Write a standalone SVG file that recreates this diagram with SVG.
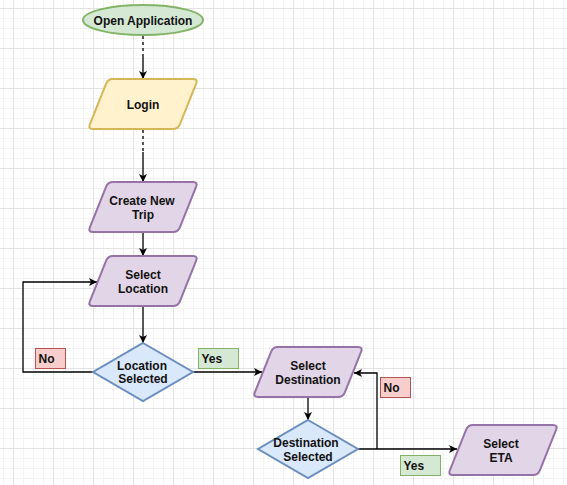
<svg xmlns="http://www.w3.org/2000/svg" width="567" height="485" viewBox="0 0 567 485">
  <defs>
    <pattern id="grid" patternUnits="userSpaceOnUse" x="13" y="8" width="40" height="40">
      <path d="M10.5,0V40M20.5,0V40M30.5,0V40M0,10.5H40M0,20.5H40M0,30.5H40" stroke="#f3f3f3" stroke-width="1" fill="none"/>
      <path d="M0.5,0V40M0,0.5H40" stroke="#e3e3e3" stroke-width="1" fill="none"/>
    </pattern>
    <path id="para" d="M25,0 L105,0 Q110,0 108.14,4.64 L91.86,45.36 Q90,50 85,50 L5,50 Q0,50 1.86,45.36 L18.14,4.64 Q20,0 25,0 Z"/>
    <marker id="arr" markerUnits="userSpaceOnUse" markerWidth="10" markerHeight="10" refX="8" refY="4" orient="auto">
      <path d="M0,0 L8,4 L0,8 L2,4 Z" fill="#000"/>
    </marker>
    <style>
      .t { font-family: "Liberation Sans", Arial, Helvetica, sans-serif; font-size: 12px; font-weight: bold; fill: #111; }
      .c { text-anchor: middle; }
      .green { fill: #d5e8d4; stroke: #82b366; stroke-width: 2; }
      .yellow { fill: #fff2cc; stroke: #d6b656; stroke-width: 2; }
      .purple { fill: #e1d5e7; stroke: #9673a6; stroke-width: 2; }
      .blue { fill: #dae8fc; stroke: #6c8ebf; stroke-width: 2; }
      .red { fill: #f8cecc; stroke: #b85450; stroke-width: 1; }
      .lgreen { fill: #d5e8d4; stroke: #82b366; stroke-width: 1; }
      .e { fill: none; stroke: #000; stroke-width: 1.3; }
      .d { stroke-dasharray: 3 3; }
    </style>
  </defs>

  <rect width="567" height="485" fill="#ffffff"/>
  <rect width="567" height="485" fill="url(#grid)"/>

  <g id="connectors">
    <line class="e d" x1="143" y1="36" x2="143" y2="54"/>
    <line class="e" x1="143" y1="54" x2="143" y2="79" marker-end="url(#arr)"/>
    <line class="e d" x1="143" y1="130" x2="143" y2="152"/>
    <line class="e" x1="143" y1="152" x2="143" y2="182" marker-end="url(#arr)"/>
    <line class="e" x1="143" y1="232" x2="143" y2="256" marker-end="url(#arr)"/>
    <line class="e" x1="143" y1="306" x2="143" y2="343" marker-end="url(#arr)"/>
    <polyline class="e" points="93,372 23,372 23,282 97,282" marker-end="url(#arr)"/>
    <line class="e" x1="193" y1="372" x2="262" y2="372" marker-end="url(#arr)"/>
    <line class="e" x1="308" y1="397" x2="308" y2="420" marker-end="url(#arr)"/>
    <line class="e" x1="358" y1="449" x2="457" y2="449" marker-end="url(#arr)"/>
    <polyline class="e" points="377,449 377,373 354,373" marker-end="url(#arr)"/>
  </g>

  <g id="open-application">
    <ellipse class="green" cx="143" cy="20" rx="60" ry="15"/>
    <text class="t c" x="143" y="25">Open Application</text>
  </g>
  <g id="login">
    <use href="#para" class="yellow" transform="translate(88,79)"/>
    <text class="t c" x="143" y="109">Login</text>
  </g>
  <g id="create-new-trip">
    <use href="#para" class="purple" transform="translate(88,182)"/>
    <text class="t c" x="142" y="205">Create New</text>
    <text class="t c" x="143" y="219">Trip</text>
  </g>
  <g id="select-location">
    <use href="#para" class="purple" transform="translate(88,256)"/>
    <text class="t c" x="143" y="278.5">Select</text>
    <text class="t c" x="143" y="293">Location</text>
  </g>
  <g id="location-selected">
    <polygon class="blue" points="143,343 193,372 143,401 93,372"/>
    <text class="t c" x="142" y="369.5">Location</text>
    <text class="t c" x="143" y="383">Selected</text>
  </g>
  <g id="label-no-1">
    <rect class="red" x="35.5" y="348.5" width="30" height="20"/>
    <text class="t" x="38.5" y="362.5">No</text>
  </g>
  <g id="label-yes-1">
    <rect class="lgreen" x="198.5" y="348.5" width="40" height="20"/>
    <text class="t" x="201.5" y="362.5">Yes</text>
  </g>
  <g id="select-destination">
    <use href="#para" class="purple" transform="translate(253,347)"/>
    <text class="t c" x="308" y="370">Select</text>
    <text class="t c" x="308" y="384.3">Destination</text>
  </g>
  <g id="destination-selected">
    <polygon class="blue" points="308,420 358,449 308,478 258,449"/>
    <text class="t c" x="306" y="447">Destination</text>
    <text class="t c" x="308" y="461">Selected</text>
  </g>
  <g id="label-no-2">
    <rect class="red" x="380.5" y="377.5" width="30" height="20"/>
    <text class="t" x="383.5" y="392">No</text>
  </g>
  <g id="label-yes-2">
    <rect class="lgreen" x="400.5" y="455.5" width="40" height="20"/>
    <text class="t" x="403.5" y="469.5">Yes</text>
  </g>
  <g id="select-eta">
    <use href="#para" class="purple" transform="translate(448,425)"/>
    <text class="t c" x="501" y="448">Select</text>
    <text class="t c" x="501" y="462">ETA</text>
  </g>
</svg>
